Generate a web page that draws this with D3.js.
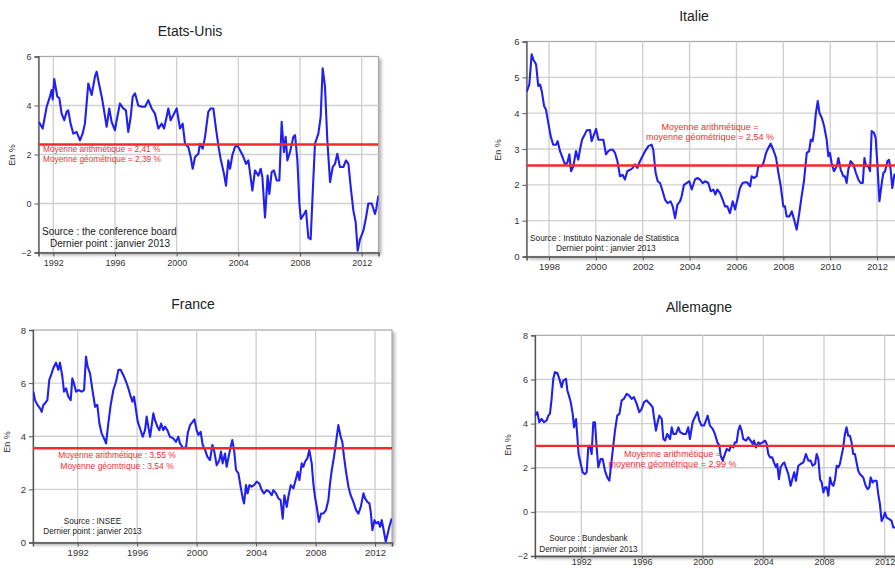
<!DOCTYPE html>
<html>
<head>
<meta charset="utf-8">
<script src="https://cdn.jsdelivr.net/npm/d3@7"></script>
<style>
  html, body { margin: 0; padding: 0; background: #fff; }
  svg { display: block; font-family: "Liberation Sans", Arial, sans-serif; }
</style>
</head>
<body>
<div id="chart"></div>
<script>
// [année, valeur en %]
const usSeries = [
  [1991.07,3.33],[1991.31,3.06],[1991.57,3.95],[1991.78,4.36],[1991.89,4.63],[1991.96,4.25],[1992.06,5.08],
  [1992.26,4.36],[1992.39,4.30],[1992.54,3.67],[1992.71,3.40],[1992.86,3.74],[1992.97,3.80],[1993.12,3.26],
  [1993.30,2.85],[1993.51,2.92],[1993.73,2.58],[1993.90,2.85],[1994.05,3.26],[1994.27,4.90],[1994.49,4.43],
  [1994.70,5.18],[1994.81,5.38],[1994.96,4.90],[1995.14,4.36],[1995.29,3.80],[1995.46,3.13],[1995.63,3.88],
  [1995.78,3.33],[1996.00,2.99],[1996.11,3.40],[1996.32,4.08],[1996.54,3.88],[1996.71,3.80],[1996.86,2.92],
  [1997.02,3.54],[1997.15,4.36],[1997.30,4.50],[1997.51,4.00],[1997.73,3.95],[1997.95,3.95],[1998.16,4.22],
  [1998.38,3.88],[1998.59,3.67],[1998.81,3.06],[1999.03,3.26],[1999.18,3.06],[1999.35,3.54],[1999.46,3.88],
  [1999.61,3.40],[1999.78,3.60],[2000.00,3.88],[2000.22,3.06],[2000.39,3.26],[2000.54,2.44],[2000.76,2.30],
  [2000.91,1.90],[2001.04,1.42],[2001.19,1.90],[2001.41,2.03],[2001.51,2.44],[2001.69,2.24],[2001.84,2.72],
  [2002.05,3.74],[2002.21,3.88],[2002.38,3.88],[2002.55,3.06],[2002.72,2.30],[2002.85,1.83],[2003.07,1.21],
  [2003.20,0.73],[2003.35,1.76],[2003.46,1.42],[2003.61,1.97],[2003.78,2.30],[2003.94,2.37],[2004.11,2.17],
  [2004.28,1.97],[2004.50,1.62],[2004.65,1.76],[2004.80,1.07],[2004.91,0.53],[2005.08,1.35],[2005.30,1.14],
  [2005.45,1.42],[2005.56,1.07],[2005.73,-0.57],[2005.90,1.14],[2006.01,0.39],[2006.16,1.28],[2006.31,1.35],
  [2006.49,0.94],[2006.66,0.94],[2006.81,3.33],[2006.96,2.10],[2007.07,2.72],[2007.18,1.76],[2007.35,2.10],
  [2007.57,2.72],[2007.68,2.79],[2007.83,1.76],[2007.96,-0.02],[2008.06,-0.63],[2008.26,-0.43],[2008.39,-0.29],
  [2008.54,-1.39],[2008.69,-1.46],[2008.86,0.94],[2008.97,2.44],[2009.19,2.85],[2009.34,3.54],[2009.47,5.52],
  [2009.62,4.77],[2009.77,2.58],[2009.95,0.87],[2010.12,1.49],[2010.27,1.62],[2010.42,2.03],[2010.59,1.49],
  [2010.81,1.49],[2010.98,1.76],[2011.14,1.62],[2011.29,0.66],[2011.46,-0.29],[2011.61,-0.77],[2011.74,-1.93],
  [2011.89,-1.46],[2012.11,-1.11],[2012.28,-0.57],[2012.43,0.00],[2012.65,0.00],[2012.86,-0.43],[2012.95,-0.20],
  [2013.08,0.32]
];

const itSeries = [
  [1997.05,4.60],[1997.16,4.80],[1997.26,5.64],[1997.33,5.50],[1997.45,5.36],[1997.54,4.76],[1997.62,4.80],
  [1997.69,4.62],[1997.79,4.20],[1997.87,4.10],[1997.97,3.73],[1998.07,3.36],[1998.18,3.12],[1998.30,3.12],
  [1998.37,3.22],[1998.47,2.94],[1998.58,2.75],[1998.68,2.57],[1998.78,2.61],[1998.87,2.85],[1998.94,2.38],
  [1999.04,2.52],[1999.15,2.94],[1999.25,2.70],[1999.32,2.98],[1999.41,3.26],[1999.49,3.36],[1999.61,3.52],
  [1999.75,3.53],[1999.82,3.22],[1999.92,3.40],[2000.01,3.56],[2000.11,3.26],[2000.20,3.26],[2000.32,3.26],
  [2000.43,2.85],[2000.53,2.94],[2000.63,2.98],[2000.72,2.98],[2000.82,2.89],[2000.92,2.66],[2001.03,2.24],
  [2001.14,2.28],[2001.24,2.15],[2001.34,2.38],[2001.46,2.42],[2001.57,2.47],[2001.67,2.57],[2001.77,2.47],
  [2001.85,2.61],[2001.95,2.75],[2002.10,2.94],[2002.24,3.08],[2002.38,3.12],[2002.45,2.98],[2002.55,2.33],
  [2002.64,2.10],[2002.74,2.05],[2002.85,1.82],[2002.95,1.59],[2003.06,1.49],[2003.19,1.54],[2003.28,1.40],
  [2003.38,1.07],[2003.48,1.45],[2003.59,1.54],[2003.66,1.68],[2003.76,2.00],[2003.87,2.05],[2003.99,2.10],
  [2004.09,1.87],[2004.23,2.15],[2004.33,2.19],[2004.44,2.15],[2004.56,2.05],[2004.66,2.10],[2004.80,2.05],
  [2004.90,1.82],[2005.01,1.87],[2005.10,1.73],[2005.18,1.87],[2005.30,1.77],[2005.41,1.59],[2005.51,1.40],
  [2005.61,1.40],[2005.72,1.21],[2005.84,1.54],[2005.94,1.31],[2006.04,1.59],[2006.15,1.91],[2006.26,2.05],
  [2006.36,2.07],[2006.46,2.07],[2006.58,1.96],[2006.65,2.24],[2006.75,2.19],[2006.86,2.24],[2006.93,2.52],
  [2007.08,2.52],[2007.15,2.61],[2007.26,2.89],[2007.36,3.03],[2007.46,3.15],[2007.57,2.98],[2007.69,2.75],
  [2007.79,2.33],[2007.89,1.96],[2008.00,1.40],[2008.07,1.40],[2008.14,1.12],[2008.26,1.12],[2008.36,1.26],
  [2008.46,1.03],[2008.57,0.75],[2008.68,1.21],[2008.78,1.68],[2008.88,2.10],[2009.00,2.89],[2009.10,2.94],
  [2009.17,3.26],[2009.25,3.22],[2009.32,3.54],[2009.39,4.01],[2009.47,4.34],[2009.54,4.01],[2009.64,3.87],
  [2009.74,3.64],[2009.85,3.26],[2009.92,2.80],[2009.99,2.89],[2010.06,2.61],[2010.16,2.38],[2010.28,2.52],
  [2010.35,2.75],[2010.45,2.42],[2010.56,2.24],[2010.63,2.24],[2010.70,2.05],[2010.77,2.42],[2010.87,2.66],
  [2010.99,2.57],[2011.10,2.33],[2011.20,2.15],[2011.30,2.05],[2011.39,2.05],[2011.46,2.75],[2011.53,2.52],
  [2011.63,2.52],[2011.70,2.38],[2011.77,3.50],[2011.87,3.45],[2011.94,3.31],[2012.01,2.61],[2012.10,1.54],
  [2012.20,2.05],[2012.27,2.33],[2012.34,2.38],[2012.44,2.66],[2012.51,2.70],[2012.58,2.42],[2012.65,1.91],
  [2012.74,2.29],[2012.82,2.30]
];

const frSeries = [
  [1989.02,5.68],[1989.13,5.36],[1989.29,5.18],[1989.47,5.05],[1989.58,4.92],[1989.69,5.18],[1989.80,5.24],
  [1989.96,5.36],[1990.09,6.12],[1990.21,6.30],[1990.36,6.56],[1990.54,6.77],[1990.70,6.50],[1990.81,6.77],
  [1990.97,6.24],[1991.08,5.68],[1991.22,5.80],[1991.37,5.49],[1991.53,5.36],[1991.64,6.18],[1991.75,5.99],
  [1991.89,5.68],[1992.04,5.74],[1992.27,5.68],[1992.43,5.74],[1992.56,7.00],[1992.67,6.62],[1992.83,6.37],
  [1993.01,5.68],[1993.17,5.11],[1993.32,5.18],[1993.46,4.48],[1993.61,4.11],[1993.77,3.92],[1993.91,3.73],
  [1994.06,4.48],[1994.22,5.18],[1994.40,5.74],[1994.58,6.06],[1994.74,6.50],[1994.89,6.50],[1995.07,6.30],
  [1995.25,6.06],[1995.41,5.80],[1995.57,5.49],[1995.68,5.30],[1995.79,5.49],[1995.92,4.99],[1996.04,4.55],
  [1996.19,4.30],[1996.37,3.98],[1996.53,4.23],[1996.64,4.74],[1996.75,4.36],[1996.87,3.98],[1997.09,4.86],
  [1997.20,4.61],[1997.36,4.36],[1997.49,4.23],[1997.61,4.48],[1997.76,4.23],[1997.87,4.36],[1998.03,4.23],
  [1998.21,3.98],[1998.43,3.92],[1998.61,3.79],[1998.77,3.98],[1998.88,3.73],[1999.11,3.54],[1999.29,3.60],
  [1999.40,4.11],[1999.56,4.42],[1999.74,4.55],[1999.85,4.64],[2000.00,4.23],[2000.12,4.05],[2000.27,4.17],
  [2000.41,3.67],[2000.57,3.48],[2000.72,3.23],[2000.90,3.10],[2001.06,3.67],[2001.17,3.48],[2001.35,2.91],
  [2001.53,3.10],[2001.64,3.42],[2001.75,2.98],[2001.91,3.35],[2002.02,2.85],[2002.13,3.17],[2002.29,3.60],
  [2002.40,3.86],[2002.52,3.48],[2002.65,2.73],[2002.81,2.60],[2002.96,2.10],[2003.10,1.66],[2003.19,1.47],
  [2003.32,2.16],[2003.43,1.85],[2003.55,2.16],[2003.70,2.10],[2003.86,2.16],[2004.04,2.29],[2004.22,2.22],
  [2004.38,1.97],[2004.53,1.85],[2004.71,1.97],[2004.89,1.91],[2005.05,1.78],[2005.16,1.97],[2005.34,1.85],
  [2005.50,1.66],[2005.65,1.60],[2005.79,0.90],[2005.90,1.78],[2006.06,1.34],[2006.17,1.72],[2006.33,2.16],
  [2006.51,2.04],[2006.66,2.35],[2006.80,2.66],[2006.91,2.35],[2007.07,2.98],[2007.18,2.85],[2007.29,3.04],
  [2007.45,3.17],[2007.58,3.48],[2007.74,2.98],[2007.85,2.22],[2007.96,1.72],[2008.08,1.34],[2008.23,0.78],
  [2008.37,1.09],[2008.52,1.09],[2008.70,1.22],[2008.86,1.60],[2008.97,2.22],[2009.09,2.73],[2009.24,3.23],
  [2009.38,3.79],[2009.53,4.42],[2009.69,3.98],[2009.80,3.79],[2009.91,3.23],[2010.05,2.66],[2010.21,2.10],
  [2010.36,1.78],[2010.54,1.53],[2010.72,1.22],[2010.88,1.09],[2011.04,1.34],[2011.22,1.85],[2011.33,1.66],
  [2011.48,1.53],[2011.62,1.47],[2011.71,1.16],[2011.82,0.46],[2011.96,0.84],[2012.07,0.72],[2012.22,0.78],
  [2012.34,0.59],[2012.45,0.84],[2012.56,0.53],[2012.72,0.03],[2012.83,0.28],[2012.96,0.59],[2013.12,0.90]
];

const deSeries = [
  [1988.95,4.36],[1989.10,4.52],[1989.23,4.06],[1989.38,4.21],[1989.54,4.06],[1989.71,4.14],[1989.82,4.36],
  [1989.93,4.44],[1990.04,5.12],[1990.15,6.03],[1990.26,6.33],[1990.42,6.29],[1990.55,6.03],[1990.70,5.65],
  [1990.81,5.95],[1990.99,6.03],[1991.08,5.50],[1991.21,5.20],[1991.30,4.97],[1991.43,4.44],[1991.52,3.83],
  [1991.65,4.21],[1991.74,3.38],[1991.82,2.62],[1991.96,2.17],[1992.09,1.79],[1992.24,1.71],[1992.35,1.79],
  [1992.46,2.92],[1992.57,3.00],[1992.68,2.62],[1992.79,4.06],[1992.90,4.06],[1993.01,2.92],[1993.12,2.02],
  [1993.27,2.39],[1993.41,2.39],[1993.56,1.86],[1993.71,1.56],[1993.85,1.41],[1993.93,1.94],[1994.07,2.77],
  [1994.22,3.68],[1994.37,4.36],[1994.51,4.44],[1994.66,5.05],[1994.81,5.12],[1994.99,5.35],[1995.16,5.27],
  [1995.32,5.12],[1995.47,5.20],[1995.65,4.89],[1995.82,4.52],[1995.98,4.67],[1996.13,4.97],[1996.31,5.05],
  [1996.53,4.89],[1996.70,4.74],[1996.79,4.29],[1996.92,3.68],[1997.03,4.06],[1997.14,4.36],[1997.30,4.21],
  [1997.41,3.30],[1997.52,3.23],[1997.67,3.53],[1997.85,3.30],[1997.96,3.83],[1998.07,3.53],[1998.24,3.53],
  [1998.40,3.83],[1998.51,3.61],[1998.73,3.53],[1998.90,3.53],[1999.05,3.83],[1999.16,3.30],[1999.34,4.06],
  [1999.49,4.29],[1999.65,4.52],[1999.78,4.14],[1999.93,3.91],[2000.09,3.91],[2000.22,4.14],[2000.33,4.36],
  [2000.48,3.91],[2000.66,3.76],[2000.81,3.53],[2000.97,3.15],[2001.10,3.00],[2001.19,2.55],[2001.32,2.32],
  [2001.47,2.62],[2001.58,2.85],[2001.76,2.77],[2001.85,3.00],[2002.02,2.92],[2002.13,3.15],[2002.24,3.15],
  [2002.35,3.68],[2002.46,3.91],[2002.57,3.68],[2002.68,3.30],[2002.86,3.23],[2003.01,3.38],[2003.16,3.23],
  [2003.30,3.08],[2003.38,3.23],[2003.52,2.92],[2003.67,3.15],[2003.78,3.08],[2003.96,3.15],[2004.11,3.23],
  [2004.22,3.08],[2004.33,2.62],[2004.44,2.47],[2004.59,2.47],[2004.70,2.24],[2004.84,2.02],[2004.92,2.17],
  [2005.03,1.48],[2005.14,2.02],[2005.27,2.17],[2005.38,2.24],[2005.49,2.02],[2005.65,1.71],[2005.80,1.18],
  [2005.91,1.48],[2006.04,1.79],[2006.15,1.41],[2006.31,2.09],[2006.46,2.17],[2006.64,2.24],[2006.81,2.62],
  [2006.97,2.32],[2007.12,2.32],[2007.25,2.09],[2007.41,2.17],[2007.52,2.62],[2007.63,2.39],[2007.74,1.48],
  [2007.85,1.33],[2007.96,0.88],[2008.07,1.11],[2008.18,1.11],[2008.29,0.73],[2008.40,1.56],[2008.51,1.26],
  [2008.62,1.18],[2008.73,1.48],[2008.84,2.09],[2008.95,2.02],[2009.05,2.17],[2009.16,2.55],[2009.27,2.92],
  [2009.38,3.53],[2009.49,3.83],[2009.60,3.45],[2009.71,3.45],[2009.82,3.15],[2009.93,2.62],[2010.04,2.62],
  [2010.15,2.24],[2010.26,1.86],[2010.37,1.71],[2010.48,1.64],[2010.59,1.56],[2010.75,1.18],[2010.88,1.03],
  [2010.99,1.11],[2011.08,1.56],[2011.21,1.33],[2011.32,1.41],[2011.47,1.41],[2011.58,0.80],[2011.69,0.35],
  [2011.80,-0.41],[2011.91,-0.26],[2012.02,-0.03],[2012.13,-0.26],[2012.31,-0.33],[2012.46,-0.41],[2012.57,-0.71],
  [2012.75,-0.70]
];

const usMean = 2.41, itMean = 2.54, frMean = 3.55, deMean = 2.99;

const usYTicks = [-2, 0, 2, 4, 6];
const itYTicks = [0, 1, 2, 3, 4, 5, 6];
const frYTicks = [0, 2, 4, 6, 8];
const deYTicks = [-2, 0, 2, 4, 6, 8];
const usXTicks = [1992, 1996, 2000, 2004, 2008, 2012];
const itXTicks = [1998, 2000, 2002, 2004, 2006, 2008, 2010, 2012];
const frXTicks = [1992, 1996, 2000, 2004, 2008, 2012];
const deXTicks = [1992, 1996, 2000, 2004, 2008, 2012];

const usNotes = ["Moyenne arithmétique = 2,41 %", "Moyenne géométrique = 2,39 %"];
const itNotes = ["Moyenne arithmétique =", "moyenne géométrique = 2,54 %"];
const frNotes = ["Moyenne arithmétique : 3,55 %", "Moyenne géomtrique : 3,54 %"];
const deNotes = ["Moyenne arithmétique =", "moyenne géométrique = 2,99 %"];

const usSource = ["Source : the conference board", "Dernier point : janvier 2013"];
const itSource = ["Source : Instituto Nazionale de Statistica", "Dernier point : janvier 2013"];
const frSource = ["Source : INSEE", "Dernier point : janvier 2013"];
const deSource = ["Source : Bundesbank", "Dernier point : janvier 2013"];

const width = 895, height = 568;

const panels = [
  { title: "Etats-Unis", data: usSeries, mean: usMean, yTicks: usYTicks, xTicks: usXTicks,
    notes: usNotes, source: usSource,
    xDomain: [1991.04, 2013.09], yDomain: [-2, 6],
    left: 38.5, right: 378.5, top: 56.5, bottom: 252.5,
    titleX: 190, titleY: 36, ylabX: 15, ylabY: 155,
    tickFont: 9, xTickSize: 4, xTickPad: 3,
    notesAt: { x: 43, y: 152, anchor: "start", size: 8.3, gap: 10 },
    srcAt: [{ x: 42, y: 235, anchor: "start" }, { x: 50, y: 247, anchor: "start" }], srcFont: 10 },
  { title: "Italie", data: itSeries, mean: itMean, yTicks: itYTicks, xTicks: itXTicks,
    notes: itNotes, source: itSource,
    xDomain: [1997.04, 2013.0], yDomain: [0, 6],
    left: 526.5, right: 900.5, top: 41.5, bottom: 256.5,
    titleX: 694, titleY: 21, ylabX: 501, ylabY: 150,
    tickFont: 9.5, xTickSize: 4, xTickPad: 3,
    notesAt: { x: 710, y: 130, anchor: "middle", size: 9, gap: 10 },
    srcAt: [{ x: 530, y: 241, anchor: "start" }, { x: 556, y: 251, anchor: "start" }], srcFont: 8.3 },
  { title: "France", data: frSeries, mean: frMean, yTicks: frYTicks, xTicks: frXTicks,
    notes: frNotes, source: frSource,
    xDomain: [1988.995, 2013.14], yDomain: [0, 8],
    left: 33, right: 392, top: 330, bottom: 542.5,
    titleX: 193, titleY: 309, ylabX: 10, ylabY: 442,
    tickFont: 9.5, xTickSize: 4, xTickPad: 3,
    notesAt: { x: 117, y: 458, anchor: "middle", size: 8.5, gap: 11 },
    srcAt: [{ x: 92.5, y: 523.5, anchor: "middle" }, { x: 92.5, y: 534, anchor: "middle" }], srcFont: 8.2 },
  { title: "Allemagne", data: deSeries, mean: deMean, yTicks: deYTicks, xTicks: deXTicks,
    notes: deNotes, source: deSource,
    xDomain: [1988.945, 2013.0], yDomain: [-2, 8],
    left: 535, right: 899.8, top: 335.3, bottom: 556,
    titleX: 699, titleY: 312, ylabX: 511, ylabY: 445,
    tickFont: 9, xTickSize: 3, xTickPad: 0,
    notesAt: { x: 672.5, y: 456.5, anchor: "middle", size: 9, gap: 10.5 },
    srcAt: [{ x: 588.5, y: 540.5, anchor: "middle" }, { x: 588.5, y: 551.5, anchor: "middle" }], srcFont: 8.2 }
];

const svg = d3.select("#chart").append("svg")
  .attr("width", width)
  .attr("height", height)
  .attr("viewBox", `0 0 ${width} ${height}`);

const defs = svg.append("defs");
defs.append("filter").attr("id", "shadow").attr("x", "-5%").attr("y", "-5%").attr("width", "115%").attr("height", "115%")
  .append("feGaussianBlur").attr("stdDeviation", 1.5);

panels.forEach((p, i) => {
  const x = d3.scaleLinear().domain(p.xDomain).range([p.left, p.right]);
  const y = d3.scaleLinear().domain(p.yDomain).range([p.bottom, p.top]);
  const w = p.right - p.left;
  const h = p.bottom - p.top;
  const g = svg.append("g");

  defs.append("clipPath").attr("id", `clip${i}`)
    .append("rect").attr("x", p.left).attr("y", p.top).attr("width", w).attr("height", h);

  /** cadre **/
  g.append("rect")
    .attr("x", p.left + 2).attr("y", p.top + 2).attr("width", w + 1).attr("height", h + 1)
    .attr("fill", "#b8b8b8")
    .attr("filter", "url(#shadow)");
  g.append("rect")
    .attr("x", p.left).attr("y", p.top).attr("width", w).attr("height", h)
    .attr("fill", "#fff")
    .attr("stroke", "#a8a8a8")
    .attr("stroke-width", 1.2);

  /** grille **/
  const grid = g.append("g").attr("stroke", "#d0d0d0").attr("stroke-width", 1.4);
  grid.selectAll(".gy").data(p.yTicks.filter((t) => t > p.yDomain[0] && t < p.yDomain[1])).join("line")
    .attr("x1", p.left).attr("x2", p.right)
    .attr("y1", (d) => y(d)).attr("y2", (d) => y(d));
  grid.selectAll(".gx").data(p.xTicks).join("line")
    .attr("y1", p.top).attr("y2", p.bottom)
    .attr("x1", (d) => x(d)).attr("x2", (d) => x(d));

  /** axes **/
  g.append("g")
    .attr("transform", `translate(${p.left},0)`)
    .call(d3.axisLeft(y).tickValues(p.yTicks).tickSize(4).tickPadding(3).tickFormat(d3.format("d")))
    .call((a) => {
      a.select(".domain").attr("stroke", "#555").attr("stroke-width", 1.3);
      a.selectAll("line").attr("stroke", "#555");
      a.selectAll("text").attr("fill", "#333").attr("font-size", p.tickFont).attr("font-family", null);
    });

  g.append("g")
    .attr("transform", `translate(0,${p.bottom})`)
    .call(d3.axisBottom(x).tickValues(p.xTicks).tickSize(p.xTickSize).tickPadding(p.xTickPad).tickFormat(d3.format("d")))
    .call((a) => {
      a.select(".domain").attr("stroke", "#555").attr("stroke-width", 1.6);
      a.selectAll("line").attr("stroke", "#555");
      a.selectAll("text").attr("fill", "#333").attr("font-size", p.tickFont).attr("font-family", null);
    });

  /** courbes **/
  const plot = g.append("g").attr("clip-path", `url(#clip${i})`);

  const line = d3.line()
    .x((d) => x(d[0]))
    .y((d) => y(d[1]));

  plot.append("path")
    .datum(p.data)
    .attr("d", line)
    .attr("fill", "none")
    .attr("stroke", "#2020f0")
    .attr("stroke-width", 2.1)
    .attr("stroke-linejoin", "round");

  plot.append("line")
    .attr("x1", p.left).attr("x2", p.right)
    .attr("y1", y(p.mean)).attr("y2", y(p.mean))
    .attr("stroke", "#f42a2a")
    .attr("stroke-width", 2.4);

  /** textes **/
  g.append("text")
    .attr("x", p.titleX).attr("y", p.titleY)
    .attr("text-anchor", "middle")
    .attr("font-size", 14)
    .attr("fill", "#222")
    .text(p.title);

  g.append("text")
    .attr("transform", `translate(${p.ylabX},${p.ylabY}) rotate(-90)`)
    .attr("text-anchor", "middle")
    .attr("font-size", 9)
    .attr("fill", "#333")
    .text("En %");

  p.notes.forEach((t, k) => {
    g.append("text")
      .attr("x", p.notesAt.x).attr("y", p.notesAt.y + k * p.notesAt.gap)
      .attr("text-anchor", p.notesAt.anchor)
      .attr("font-size", p.notesAt.size)
      .attr("fill", "#ee3030")
      .text(t);
  });

  p.source.forEach((t, k) => {
    g.append("text")
      .attr("x", p.srcAt[k].x).attr("y", p.srcAt[k].y)
      .attr("text-anchor", p.srcAt[k].anchor)
      .attr("font-size", p.srcFont)
      .attr("fill", "#222")
      .text(t);
  });
});
</script>
</body>
</html>
